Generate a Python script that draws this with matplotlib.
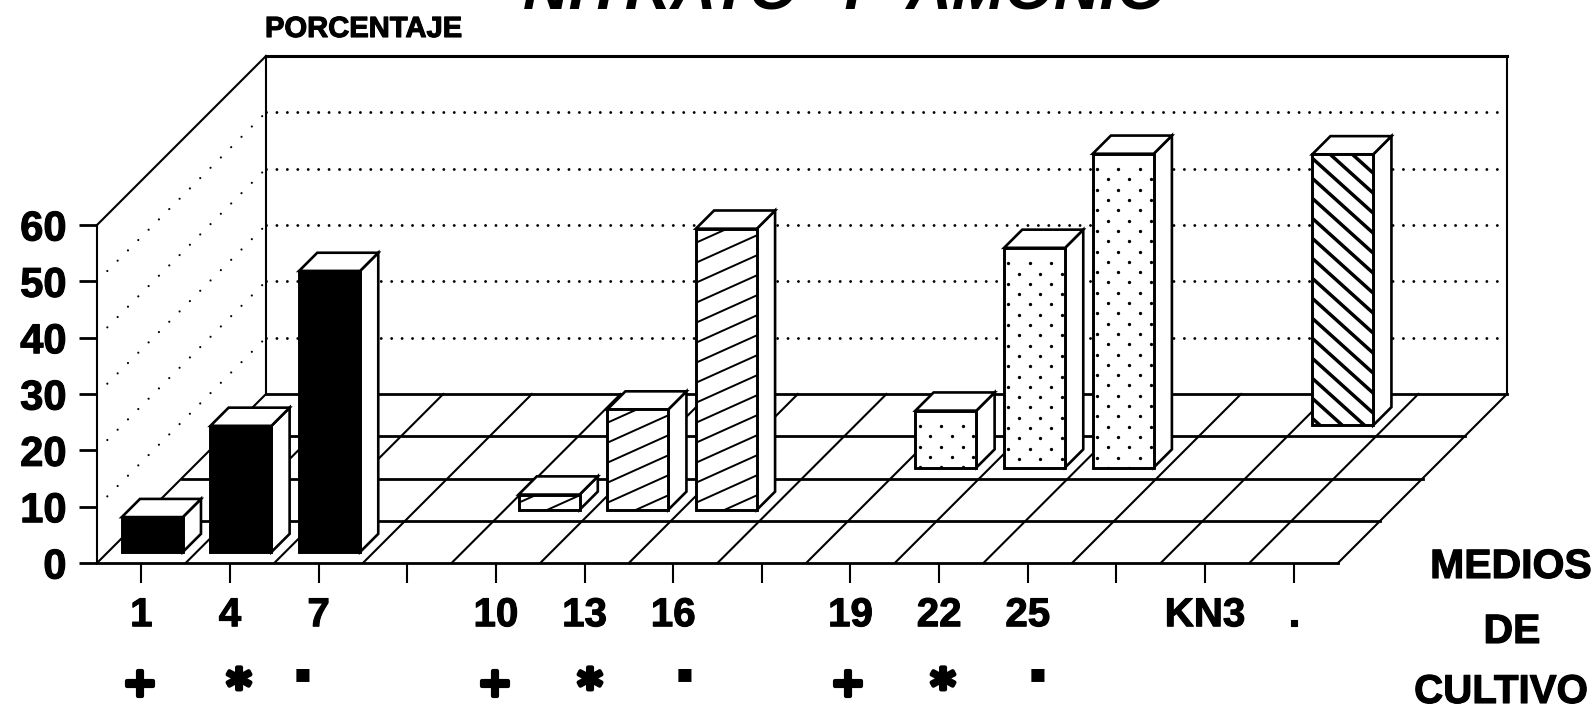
import matplotlib
matplotlib.use("Agg")
import matplotlib.pyplot as plt
import matplotlib.patheffects as pe
import numpy as np
from matplotlib.patches import Polygon, Rectangle
from matplotlib.transforms import Affine2D

plt.rcParams['lines.scale_dashes'] = False
plt.rcParams['font.family'] = ['Liberation Sans', 'DejaVu Sans']

# ---- data
tick_labels = ['1', '4', '7', '', '10', '13', '16', '', '19', '22', '25', '', 'KN3', '.']
row0_cats = [0, 1, 2]
row0_vals = [6.2, 22.4, 49.9]
row1_cats = [4, 5, 6]
row1_vals = [2.7, 17.8, 49.9]
row2_cats = [8, 9, 10]
row2_vals = [10.1, 39.0, 55.7]
row3_cats = [12]
row3_vals = [48.1]
y_ticks = [0, 10, 20, 30, 40, 50, 60]
symbols = ['+', '*', '▪', '+', '*', '▪', '+', '*', '▪']
symbol_px = [140, 239, 303, 495, 590, 685, 848, 943, 1038]
symbol_py = [685, 681, 674, 685, 681, 674, 685, 681, 674]

W, H = 1595, 710
N_CAT, N_ROW, VMAX = 14, 4, 60
X0, X1, Y0, YT = 97, 1338, 563, 225      # front plane in pixels
PX_X = (X1 - X0) / N_CAT                 # pixels per category
PX_Y = (Y0 - YT) / VMAX                  # pixels per value unit
ROW_PX = 42.25
DX = ROW_PX / PX_X                       # oblique shift of one row, categories
DY = ROW_PX / PX_Y                       # oblique shift of one row, value units
BAR_W = 61 / PX_X
BAR_FRONT, BAR_DEPTH = 0.26, 0.43
EDGE = 1.9

fig = plt.figure(figsize=(W / 100, H / 100), dpi=100, facecolor='white')
ax = fig.add_axes([X0 / W, 1 - Y0 / H, (X1 - X0) / W, (Y0 - YT) / H])
ax.set_xlim(0, N_CAT)
ax.set_ylim(0, VMAX)
ax.patch.set_visible(False)
pix = Affine2D().scale(1, -1).translate(0, H)


def P(cat, row, val):
    return cat + row * DX, val + row * DY


def line(pts, lw=1.3, z=2, **kw):
    xs, ys = zip(*pts)
    return ax.plot(xs, ys, color='black', lw=lw, zorder=z, clip_on=False,
                   solid_capstyle='projecting', **kw)[0]


DOT_BACK = (0, (0.01, 7.5))
DOT_SIDE = (0, (0.01, 10.5))

# walls
line([P(N_CAT, N_ROW, VMAX), P(0, N_ROW, VMAX)], lw=2.2)
line([P(0, 0, VMAX), P(0, N_ROW, VMAX)], lw=1.5)
line([P(N_CAT, N_ROW, VMAX), P(N_CAT, N_ROW, 0)], lw=1.5)
line([P(0, N_ROW, VMAX), P(0, N_ROW, 0)], lw=1.5)
for v in y_ticks[1:-1]:
    ax.plot(*zip(P(0, N_ROW, v), P(N_CAT, N_ROW, v)), color='black', lw=2.1,
            ls=DOT_BACK, dash_capstyle='round', clip_on=False, zorder=1)
    ax.plot(*zip(P(0, 0, v), P(0, N_ROW, v)), color='black', lw=1.6,
            ls=DOT_SIDE, dash_capstyle='round', clip_on=False, zorder=1)

# floor
for r in range(1, N_ROW + 1):
    line([P(0, r, 0), P(N_CAT, r, 0)], lw=2.0)
for c in range(N_CAT + 1):
    line([P(c, 0, 0), P(c, N_ROW, 0)], lw=1.5)


def clipped(artist, clip):
    artist.set_clip_path(clip)
    artist.set_clip_on(True)


def slash(clip, x, y, w, h, slope_px, gap_px, lw):
    gap = gap_px / PX_Y
    s = slope_px * PX_X / PX_Y
    n = int((h + abs(s) * w) / gap) + 2
    for k in range(-n, n + 1):
        y0 = y + k * gap + gap * 0.35
        a = ax.plot([x, x + w], [y0, y0 + s * w], color='black', lw=lw, zorder=6)[0]
        clipped(a, clip)


def dots(clip, x, y, w, h):
    dx, dy = 10.7 / PX_X, 10.3 / PX_Y
    xs, ys = [], []
    for i in range(int(h / dy) + 1):
        for j in range(int(w / (2 * dx)) + 2):
            xs.append(x + (j * 2 + (i % 2)) * dx + 0.4 * dx)
            ys.append(y + h - (i + 1.5) * dy)
    a = ax.plot(xs, ys, ls='none', marker='o', ms=2.4, color='black', mew=0, zorder=6)[0]
    clipped(a, clip)


def bar(cat, row, val, style):
    x = cat + (1 - BAR_W) / 2
    r0, r1 = row + BAR_FRONT, row + BAR_FRONT + BAR_DEPTH
    z = 10 - row
    fx, fy = P(x, r0, 0)
    w, h = BAR_W, val
    kw = dict(edgecolor='black', lw=EDGE, zorder=5 + z * 0.1, clip_on=False, joinstyle='miter')
    side = [P(x + w, r0, 0), P(x + w, r1, 0), P(x + w, r1, val), P(x + w, r0, val)]
    top = [P(x, r0, val), P(x + w, r0, val), P(x + w, r1, val), P(x, r1, val)]
    ax.add_patch(Polygon(side, facecolor='white', **kw))
    ax.add_patch(Polygon(top, facecolor='white', **kw))
    front = Rectangle((fx, fy), w, h, facecolor='black' if style == 'solid' else 'white', **kw)
    ax.add_patch(front)
    clip = Rectangle((fx, fy), w, h, transform=ax.transData)
    zz = 5 + z * 0.1 + 0.01
    before = len(ax.lines)
    if style == 'slash':
        slash(clip, fx, fy, w, h, 0.45, 20, 1.4)
    elif style == 'back':
        slash(clip, fx, fy, w, h, -0.9, 20, 2.5)
    elif style == 'dots':
        dots(clip, fx, fy, w, h)
    for a in ax.lines[before:]:
        a.set_zorder(zz)
    # redraw outline above the pattern
    ax.add_patch(Rectangle((fx, fy), w, h, facecolor='none', edgecolor='black', lw=EDGE,
                           zorder=zz + 0.001, clip_on=False))


for cats, vals, row, style in [(row3_cats, row3_vals, 3, 'back'),
                               (row2_cats, row2_vals, 2, 'dots'),
                               (row1_cats, row1_vals, 1, 'slash'),
                               (row0_cats, row0_vals, 0, 'solid')]:
    for c, v in zip(cats, vals):
        bar(c, row, v, style)

# axes, ticks
for s in ('top', 'right'):
    ax.spines[s].set_visible(False)
ax.spines['left'].set_linewidth(1.5)
ax.spines['bottom'].set_linewidth(2.0)
ax.set_yticks(y_ticks)
ax.set_xticks(np.arange(N_CAT) + 0.5)
ax.set_xticklabels(tick_labels)
ax.tick_params(axis='y', length=13, width=2.0, pad=9, labelsize=30)
ax.tick_params(axis='x', length=14.4, width=1.5, pad=9.5, labelsize=29)
heavy = [pe.withStroke(linewidth=0.8, foreground='black')]
for t in ax.get_xticklabels() + ax.get_yticklabels():
    t.set_fontweight('bold')
    t.set_path_effects(heavy)

# texts
fig.text(523, 9, 'NITRATO  Y  AMONIO', transform=pix, fontsize=45.5, fontweight='bold',
         fontstyle='italic', ha='left', va='baseline')
fig.text(265, 37, 'PORCENTAJE', transform=pix, fontsize=21, fontweight='bold',
         ha='left', va='baseline', path_effects=heavy)
fig.text(1511, 578, 'MEDIOS', transform=pix, fontsize=29.5, fontweight='bold', ha='center',
         va='baseline', path_effects=heavy)
fig.text(1512, 643, 'DE', transform=pix, fontsize=29.5, fontweight='bold', ha='center',
         va='baseline', path_effects=heavy)
fig.text(1501, 703, 'CULTIVO', transform=pix, fontsize=29, fontweight='bold', ha='center',
         va='baseline', path_effects=heavy)
sym_style = {'+': (29, 0, 3.0), '*': (34, 9, 3.0), '▪': (19, 0, 0.0)}
for sym, sx, sy in zip(symbols, symbol_px, symbol_py):
    fs, nudge, stroke = sym_style[sym]
    effects = [pe.withStroke(linewidth=stroke, foreground='black')] if stroke else None
    fig.text(sx, sy + nudge, sym, transform=pix, fontsize=fs, fontweight='bold',
             family=['DejaVu Sans'], ha='center', va='center', path_effects=effects)

fig.savefig('out.png', dpi=100, facecolor='white')
